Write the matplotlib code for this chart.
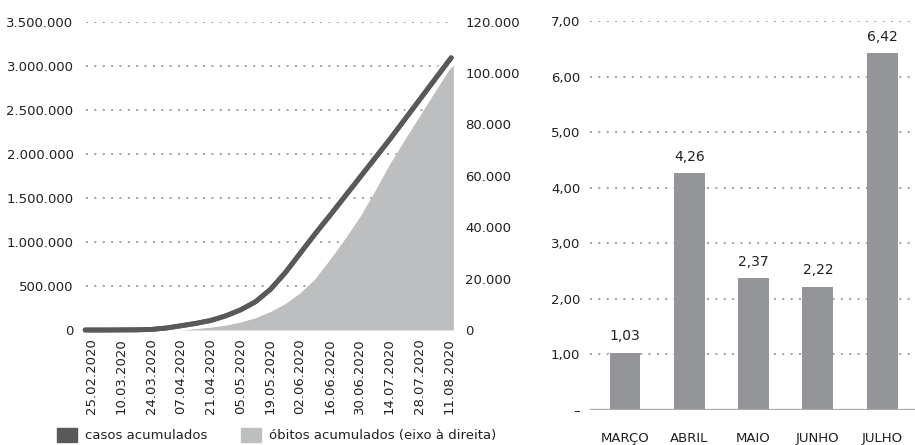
import matplotlib.pyplot as plt
import matplotlib.patheffects as pe
from matplotlib.patches import Patch
from matplotlib.ticker import FuncFormatter
import pandas as pd

# casos acumulados (linha, eixo esquerdo) - leitura semanal do gráfico
case_dates = ["22.02.2020", "25.02.2020", "03.03.2020", "10.03.2020", "17.03.2020", "24.03.2020",
              "31.03.2020", "07.04.2020", "14.04.2020", "21.04.2020", "28.04.2020", "05.05.2020",
              "12.05.2020", "19.05.2020", "26.05.2020", "02.06.2020", "09.06.2020", "16.06.2020",
              "23.06.2020", "30.06.2020", "07.07.2020", "14.07.2020", "21.07.2020", "28.07.2020",
              "04.08.2020", "11.08.2020", "12.08.2020"]
cases = [0, 0, 0, 1000, 2000, 6000,
         22000, 48000, 75000, 108000, 160000, 228000,
         320000, 460000, 650000, 870000, 1090000, 1300000,
         1515000, 1730000, 1945000, 2160000, 2385000, 2610000,
         2835000, 3060000, 3090000]

# óbitos acumulados (área, eixo direito)
death_dates = case_dates[:-1] + ["13.08.2020"]
deaths = [0, 0, 0, 0, 0, 0,
          50, 200, 550, 1100, 1900, 3100,
          4800, 7200, 10300, 14500, 20000, 27500,
          35500, 44000, 54000, 64500, 74000, 83200,
          92400, 101500, 103000]

date_ticks = ["25.02.2020", "10.03.2020", "24.03.2020", "07.04.2020", "21.04.2020", "05.05.2020",
              "19.05.2020", "02.06.2020", "16.06.2020", "30.06.2020", "14.07.2020", "28.07.2020",
              "11.08.2020"]
left_ticks = [0, 500000, 1000000, 1500000, 2000000, 2500000, 3000000, 3500000]
right_ticks = [0, 20000, 40000, 60000, 80000, 100000, 120000]

# variação mensal (barras)
months = ["MARÇO", "ABRIL", "MAIO", "JUNHO", "JULHO"]
monthly = [1.03, 4.26, 2.37, 2.22, 6.42]
bar_ticks = [0, 1, 2, 3, 4, 5, 6, 7]
bar_tick_labels = ["–", "1,00", "2,00", "3,00", "4,00", "5,00", "6,00", "7,00"]

text_color = "#231f20"
line_color = "#58595b"
area_color = "#bcbec0"
bar_color = "#939598"
grid_color = "#9d9fa2"
dots = (0, (1, 3.3))

plt.rcParams["font.family"] = "DejaVu Sans"
plt.rcParams["font.size"] = 9.5
plt.rcParams["text.color"] = text_color
plt.rcParams["xtick.color"] = text_color
plt.rcParams["ytick.color"] = text_color


def pt_format(v, pos=None):
    return "{:,.0f}".format(v).replace(",", ".")


fig = plt.figure(figsize=(9.15, 4.45), dpi=100)

# ---- gráfico da esquerda
ax = fig.add_axes([86 / 915, 1 - 330 / 445, 368 / 915, 308.3 / 445])
ax2 = ax.twinx()

cx = pd.to_datetime(case_dates, format="%d.%m.%Y")
dx = pd.to_datetime(death_dates, format="%d.%m.%Y")
tx = pd.to_datetime(date_ticks, format="%d.%m.%Y")

ax2.set_ylim(0, 120000)
ax.set_ylim(0, 3500000)
ax.fill_between(dx, 0, deaths, color=area_color, lw=0, zorder=2, transform=ax2.transData)
ax.plot(cx, cases, color=line_color, lw=3.5, solid_capstyle="round", solid_joinstyle="round",
        zorder=3, clip_on=False,
        path_effects=[pe.withStroke(linewidth=7.5, foreground="white"), pe.Normal()])

ax.set_xlim(tx[0] - pd.Timedelta(days=2.6), tx[0] + pd.Timedelta(days=170.3))
ax.set_xticks(tx, date_ticks)
ax.set_yticks(left_ticks)
ax.yaxis.set_major_formatter(FuncFormatter(pt_format))
ax2.set_yticks(right_ticks)
ax2.yaxis.set_major_formatter(FuncFormatter(pt_format))

ax.set_axisbelow(True)
ax.yaxis.grid(True, color=grid_color, linestyle=dots, linewidth=1.4)
ax.get_ygridlines()[0].set_visible(False)

ax.tick_params(axis="x", length=0, pad=6, rotation=90)
ax.tick_params(axis="y", length=0, pad=9)
ax2.tick_params(axis="y", length=0, pad=8)
for a in (ax, ax2):
    for s in a.spines.values():
        s.set_visible(False)

fig.legend(handles=[Patch(color=line_color, label="casos acumulados"),
                    Patch(color=area_color, label="óbitos acumulados (eixo à direita)")],
           loc="center left", bbox_to_anchor=(57 / 915, 1 - 435 / 445), ncol=2, frameon=False,
           handlelength=1.5, handleheight=1.3, handletextpad=0.6, columnspacing=2.6,
           borderpad=0, borderaxespad=0, fontsize=9.5)

# ---- gráfico da direita
ax3 = fig.add_axes([590 / 915, 1 - 410 / 445, 325 / 915, 389 / 445])
bars = ax3.bar(range(len(months)), monthly, width=0.48, color=bar_color, zorder=2)
ax3.bar_label(bars, labels=[f"{v:.2f}".replace(".", ",") for v in monthly], padding=7, fontsize=10)
ax3.axhline(0, color="#a7a9ac", lw=1.6, zorder=3)
ax3.set_xlim(-0.544, 4.51)
ax3.set_ylim(0, 7)
ax3.set_xticks(range(len(months)), months)
ax3.set_yticks(bar_ticks, bar_tick_labels)
ax3.set_axisbelow(True)
ax3.yaxis.grid(True, color=grid_color, linestyle=dots, linewidth=1.4)
ax3.tick_params(axis="x", length=0, pad=15.5)
ax3.tick_params(axis="y", length=0, pad=7)
for s in ax3.spines.values():
    s.set_visible(False)

fig.savefig("out.png", dpi=100)
